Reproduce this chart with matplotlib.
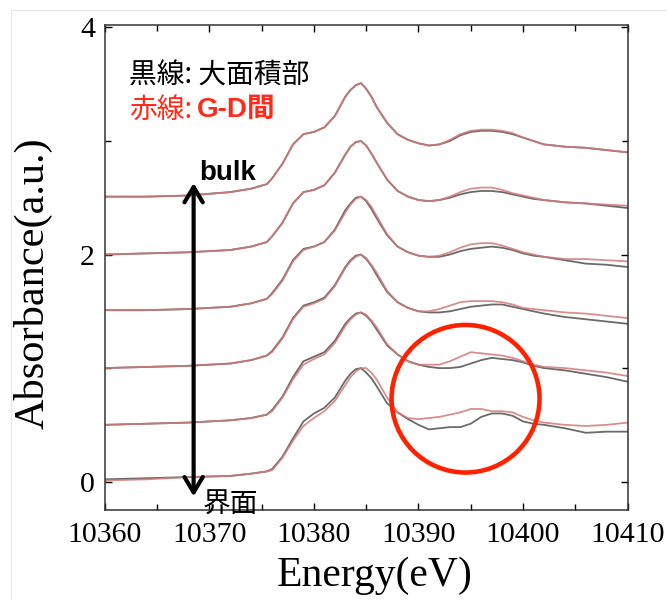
import matplotlib
matplotlib.use("Agg")

import numpy as np
import matplotlib.pyplot as plt
from matplotlib.patches import Ellipse
from matplotlib.lines import Line2D
from matplotlib.ticker import MultipleLocator

# energy grid (eV) shared by all spectra
energy = [10360, 10364, 10368, 10372, 10374, 10375.5, 10376, 10377, 10378, 10379,
          10380, 10381, 10382, 10383, 10383.5, 10384, 10384.5, 10385, 10385.5, 10386,
          10387, 10388, 10389, 10390, 10391, 10392, 10393, 10394, 10395, 10396,
          10397, 10398, 10399, 10400, 10401, 10402, 10404, 10406, 10408, 10410]

# vertical offsets, bulk (top) -> interface (bottom)
offsets = [2.5, 2.0, 1.5, 1.0, 0.5, 0.0]

# black = large-area part, red = between G-D (normalised, without offset)
black_1 = [0.01, 0.01, 0.02, 0.05, 0.08, 0.12, 0.17, 0.30, 0.47, 0.56,
           0.58, 0.62, 0.72, 0.89, 0.95, 0.99, 1.01, 0.96, 0.89, 0.80,
           0.66, 0.56, 0.51, 0.48, 0.46, 0.47, 0.50, 0.55, 0.58, 0.59,
           0.59, 0.58, 0.56, 0.53, 0.50, 0.47, 0.45, 0.44, 0.42, 0.40]
red_1 = [0.01, 0.01, 0.02, 0.05, 0.08, 0.12, 0.17, 0.30, 0.47, 0.56,
         0.58, 0.62, 0.72, 0.89, 0.95, 0.99, 1.01, 0.96, 0.89, 0.80,
         0.66, 0.56, 0.51, 0.48, 0.46, 0.47, 0.51, 0.56, 0.59, 0.60,
         0.60, 0.59, 0.57, 0.53, 0.50, 0.47, 0.45, 0.44, 0.42, 0.40]
black_2 = [0.00, 0.01, 0.02, 0.04, 0.07, 0.11, 0.16, 0.28, 0.45, 0.55,
           0.57, 0.61, 0.72, 0.88, 0.95, 0.99, 1.00, 0.96, 0.89, 0.81,
           0.66, 0.56, 0.51, 0.48, 0.47, 0.48, 0.50, 0.53, 0.55, 0.56,
           0.56, 0.55, 0.53, 0.51, 0.49, 0.48, 0.46, 0.45, 0.43, 0.41]
red_2 = [0.00, 0.01, 0.02, 0.04, 0.07, 0.11, 0.16, 0.28, 0.45, 0.55,
         0.57, 0.61, 0.72, 0.88, 0.95, 0.99, 1.00, 0.96, 0.89, 0.81,
         0.66, 0.56, 0.51, 0.48, 0.47, 0.48, 0.51, 0.55, 0.58, 0.59,
         0.59, 0.57, 0.54, 0.52, 0.50, 0.48, 0.46, 0.45, 0.44, 0.43]
black_3 = [0.01, 0.01, 0.02, 0.04, 0.07, 0.11, 0.16, 0.28, 0.45, 0.55,
           0.57, 0.61, 0.72, 0.89, 0.95, 1.00, 1.01, 0.97, 0.90, 0.82,
           0.67, 0.57, 0.52, 0.49, 0.48, 0.48, 0.50, 0.53, 0.55, 0.56,
           0.57, 0.56, 0.54, 0.51, 0.49, 0.48, 0.45, 0.42, 0.41, 0.39]
red_3 = [0.01, 0.01, 0.02, 0.04, 0.07, 0.11, 0.15, 0.27, 0.44, 0.54,
         0.57, 0.61, 0.71, 0.87, 0.94, 0.99, 1.01, 0.98, 0.92, 0.84,
         0.68, 0.57, 0.52, 0.49, 0.48, 0.49, 0.52, 0.56, 0.59, 0.60,
         0.60, 0.58, 0.55, 0.52, 0.50, 0.48, 0.46, 0.46, 0.45, 0.44]
black_4 = [0.00, 0.01, 0.02, 0.04, 0.07, 0.11, 0.15, 0.27, 0.44, 0.55,
           0.58, 0.62, 0.73, 0.89, 0.95, 0.99, 1.00, 0.96, 0.90, 0.82,
           0.67, 0.58, 0.53, 0.50, 0.49, 0.49, 0.50, 0.52, 0.54, 0.55,
           0.56, 0.56, 0.54, 0.52, 0.50, 0.48, 0.45, 0.43, 0.41, 0.39]
red_4 = [0.00, 0.01, 0.02, 0.04, 0.07, 0.11, 0.14, 0.26, 0.43, 0.54,
         0.57, 0.61, 0.72, 0.88, 0.94, 0.98, 1.00, 0.97, 0.91, 0.84,
         0.68, 0.58, 0.53, 0.50, 0.50, 0.52, 0.55, 0.58, 0.59, 0.59,
         0.59, 0.58, 0.56, 0.53, 0.52, 0.51, 0.49, 0.48, 0.46, 0.44]
black_5 = [0.00, 0.01, 0.02, 0.04, 0.06, 0.09, 0.13, 0.25, 0.42, 0.56,
           0.60, 0.64, 0.74, 0.89, 0.94, 0.98, 0.99, 0.96, 0.91, 0.84,
           0.70, 0.62, 0.56, 0.53, 0.51, 0.50, 0.50, 0.51, 0.54, 0.57,
           0.59, 0.58, 0.57, 0.55, 0.52, 0.50, 0.48, 0.45, 0.42, 0.38]
red_5 = [0.00, 0.01, 0.02, 0.04, 0.06, 0.09, 0.12, 0.24, 0.40, 0.53,
         0.58, 0.62, 0.72, 0.87, 0.93, 0.97, 0.99, 0.97, 0.92, 0.86,
         0.71, 0.62, 0.56, 0.53, 0.53, 0.53, 0.56, 0.60, 0.64, 0.63,
         0.62, 0.61, 0.59, 0.56, 0.53, 0.51, 0.50, 0.48, 0.46, 0.43]
black_6 = [0.02, 0.03, 0.04, 0.05, 0.07, 0.09, 0.11, 0.22, 0.38, 0.53,
           0.60, 0.65, 0.74, 0.89, 0.95, 0.99, 1.00, 0.96, 0.91, 0.84,
           0.69, 0.61, 0.55, 0.50, 0.46, 0.47, 0.48, 0.48, 0.51, 0.57,
           0.60, 0.60, 0.58, 0.53, 0.51, 0.50, 0.47, 0.43, 0.44, 0.44]
red_6 = [0.01, 0.02, 0.04, 0.05, 0.07, 0.09, 0.10, 0.21, 0.36, 0.49,
         0.56, 0.62, 0.71, 0.85, 0.92, 0.97, 1.00, 1.00, 0.96, 0.90,
         0.74, 0.61, 0.56, 0.55, 0.56, 0.57, 0.59, 0.61, 0.64, 0.64,
         0.62, 0.62, 0.61, 0.57, 0.54, 0.52, 0.50, 0.49, 0.50, 0.52]

black_spectra = [black_1, black_2, black_3, black_4, black_5, black_6]
red_spectra = [red_1, red_2, red_3, red_4, red_5, red_6]

x_ticks = [10360, 10370, 10380, 10390, 10400, 10410]
y_ticks = [0, 2, 4]

cjk = ["Noto Sans CJK JP", "DejaVu Sans"]
serif = "Liberation Serif"

fig = plt.figure(figsize=(6.67, 6.0), dpi=100)
ax = fig.add_axes([0.157, 0.15, 0.784, 0.808])

for off, blk, red in zip(offsets, black_spectra, red_spectra):
    ax.plot(energy, np.array(blk) + off, color="#5a5a5a", lw=1.3, alpha=0.9)
    ax.plot(energy, np.array(red) + off, color="#d27a7a", lw=1.3, alpha=0.85)

ax.set_xlim(10360, 10410)
ax.set_ylim(-0.25, 4.02)
ax.set_xticks(x_ticks)
ax.set_yticks(y_ticks)
ax.xaxis.set_minor_locator(MultipleLocator(5))
ax.yaxis.set_minor_locator(MultipleLocator(1))
ax.tick_params(which="both", direction="in", top=True, right=True,
               width=1.0, labelsize=21.5)
ax.tick_params(axis="x", pad=9)
ax.tick_params(axis="y", pad=7)
ax.tick_params(which="major", length=5)
ax.tick_params(which="minor", length=4)
for lab in ax.get_xticklabels() + ax.get_yticklabels():
    lab.set_fontfamily(serif)
for sp in ax.spines.values():
    sp.set_linewidth(1.1)
    sp.set_color("#333333")

ax.set_xlabel("Energy(eV)", fontfamily=serif, fontsize=30)
ax.set_ylabel("Absorbance(a.u.)", fontfamily=serif, fontsize=30.5)
ax.xaxis.set_label_coords(0.516, -0.096)
ax.yaxis.set_label_coords(-0.099, 0.468)

# bulk <-> interface arrow
ax.annotate("", xy=(10368.5, 2.63), xytext=(10368.5, -0.13),
            arrowprops=dict(arrowstyle="<->,head_length=0.5,head_width=0.3",
                            lw=3, color="black", mutation_scale=22,
                            shrinkA=0, shrinkB=0))
ax.text(10369.0, 2.72, "bulk", fontfamily="Liberation Sans", fontweight="bold",
        fontsize=20, va="center", ha="left")
ax.text(10369.4, -0.2, "界面", fontfamily=cjk, fontsize=20,
        va="center", ha="left")

# legend-like notes
ax.text(0.046, 0.897, "黒線: 大面積部", transform=ax.transAxes, fontfamily=cjk,
        fontsize=20, va="center", ha="left")
ax.text(0.046, 0.826, "赤線:", transform=ax.transAxes, fontfamily=cjk,
        fontsize=20, color="#ff2a1a", va="center", ha="left")
ax.text(0.176, 0.826, "G-D間", transform=ax.transAxes,
        fontfamily=["Liberation Sans", "Noto Sans CJK JP"], fontweight="bold",
        fontsize=20, color="#ff2a1a", va="center", ha="left")

# highlight circle
ax.add_patch(Ellipse((10394.5, 0.73), 14.15, 1.30, fill=False,
                     edgecolor="#ff2200", lw=3.3, zorder=5))

# faint frame of the original screenshot
fig.add_artist(Line2D([11 / 667, 11 / 667], [0, 1 - 10 / 600], color="#e6e6e6", lw=0.8))
fig.add_artist(Line2D([11 / 667, 1], [1 - 10 / 600, 1 - 10 / 600], color="#e6e6e6", lw=0.8))

fig.savefig("out.png", dpi=100)
